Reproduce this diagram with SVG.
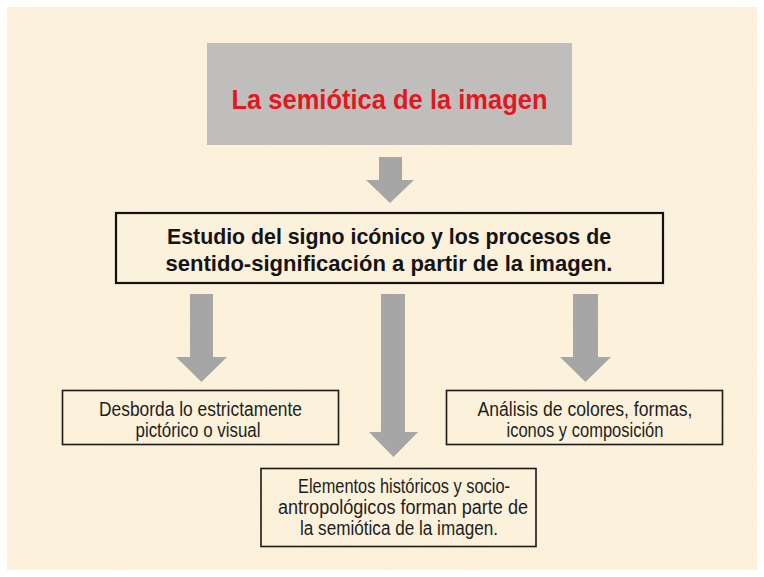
<svg xmlns="http://www.w3.org/2000/svg" width="764" height="577" viewBox="0 0 764 577">
  <defs>
    <style>
      .bg { fill: #FCF1DA; }
      .gray { fill: #BFBEBD; }
      .arrow { fill: #A6A6A6; }
      .box { fill: none; stroke: #1A1A1A; stroke-width: 1.6; }
      .box2 { fill: none; stroke: #111111; stroke-width: 2.2; }
      .title { font-family: "Liberation Sans", Arial, sans-serif; font-weight: bold; font-size: 28px; fill: #E2181F; text-anchor: middle; }
      .main { font-family: "Liberation Sans", Arial, sans-serif; font-weight: bold; font-size: 22.5px; fill: #141414; text-anchor: middle; }
      .small { font-family: "Liberation Sans", Arial, sans-serif; font-size: 19.5px; fill: #1E1E1E; text-anchor: middle; }
    </style>
    <filter id="mottle" x="0" y="0" width="100%" height="100%">
      <feTurbulence type="fractalNoise" baseFrequency="0.035" numOctaves="3" seed="4" result="n"/>
      <feColorMatrix type="matrix" values="0 0 0 0 0.94  0 0 0 0 0.88  0 0 0 0 0.76  0 0 0 0.9 -0.35" />
    </filter>
  </defs>

  <rect x="0" y="0" width="764" height="577" fill="#FFFFFF"/>
  <rect class="bg" x="7" y="7" width="750" height="563"/>
  <rect x="7" y="7" width="750" height="563" filter="url(#mottle)" opacity="0.45"/>

  <g id="connectors">
    <polygon class="arrow" points="379,157 402,157 402,180 414,180 390,203 366,180 379,180"/>
    <polygon class="arrow" points="190,294 213,294 213,357 227,357 201.5,382 176,357 190,357"/>
    <polygon class="arrow" points="381,294 405,294 405,432 418,432 393.5,457 369,432 381,432"/>
    <polygon class="arrow" points="573,294 598,294 598,357 611,357 585.5,382 560,357 573,357"/>
  </g>

  <g id="node-title">
    <rect class="gray" x="207" y="43" width="365" height="102"/>
    <text class="title" x="389.5" y="109" textLength="316" lengthAdjust="spacingAndGlyphs">La semiótica de la imagen</text>
  </g>

  <g id="node-estudio">
    <rect class="box2" x="116" y="213" width="547" height="70"/>
    <text class="main" x="389" y="244" textLength="444" lengthAdjust="spacingAndGlyphs">Estudio del signo icónico y los procesos de</text>
    <text class="main" x="389" y="271" textLength="447" lengthAdjust="spacingAndGlyphs">sentido-significación a partir de la imagen.</text>
  </g>

  <g id="node-desborda">
    <rect class="box" x="62.5" y="390.5" width="276" height="54"/>
    <text class="small" x="200.5" y="416" textLength="203" lengthAdjust="spacingAndGlyphs">Desborda lo estrictamente</text>
    <text class="small" x="198" y="437" textLength="125" lengthAdjust="spacingAndGlyphs">pictórico o visual</text>
  </g>

  <g id="node-analisis">
    <rect class="box" x="446.5" y="390.5" width="276" height="54"/>
    <text class="small" x="585" y="416" textLength="215" lengthAdjust="spacingAndGlyphs">Análisis de colores, formas,</text>
    <text class="small" x="585" y="437" textLength="157" lengthAdjust="spacingAndGlyphs">iconos y composición</text>
  </g>

  <g id="node-elementos">
    <rect class="box" x="261" y="468.5" width="275" height="78"/>
    <text class="small" x="404" y="493" textLength="212" lengthAdjust="spacingAndGlyphs">Elementos históricos y socio-</text>
    <text class="small" x="403" y="514" textLength="250" lengthAdjust="spacingAndGlyphs">antropológicos forman parte de</text>
    <text class="small" x="399" y="535" textLength="198" lengthAdjust="spacingAndGlyphs">la semiótica de la imagen.</text>
  </g>
</svg>
